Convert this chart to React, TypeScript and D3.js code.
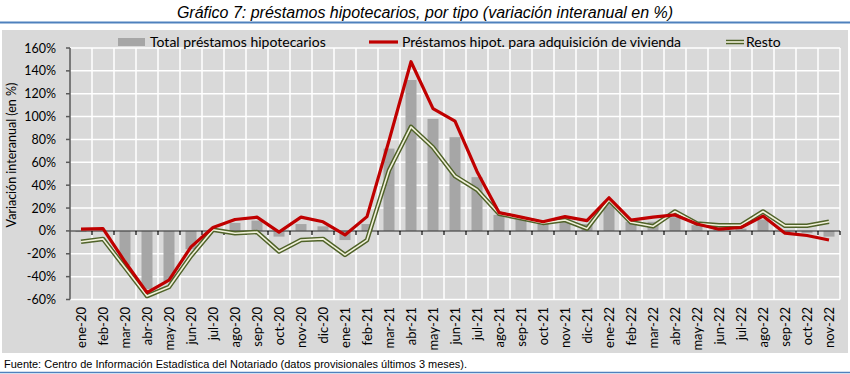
import React from 'react';
import * as d3 from 'd3';

// Meses (ene-20 .. nov-22)
const months = [
  'ene-20', 'feb-20', 'mar-20', 'abr-20', 'may-20', 'jun-20', 'jul-20', 'ago-20', 'sep-20', 'oct-20', 'nov-20', 'dic-20',
  'ene-21', 'feb-21', 'mar-21', 'abr-21', 'may-21', 'jun-21', 'jul-21', 'ago-21', 'sep-21', 'oct-21', 'nov-21', 'dic-21',
  'ene-22', 'feb-22', 'mar-22', 'abr-22', 'may-22', 'jun-22', 'jul-22', 'ago-22', 'sep-22', 'oct-22', 'nov-22',
];

// Total préstamos hipotecarios (barras)
const totalValues = [
  -1, 0, -30, -51, -44, -16, 1, 7, 9, -5, 6, 4,
  -8, 6, 72, 132, 98, 82, 47, 14, 10, 7, 11, 6,
  26, 8, 8, 12, 5, 2, 2, 10, -1, -2, -5,
];

// Préstamos hipot. para adquisición de vivienda
const viviendaValues = [
  1.5, 2, -27, -54, -43, -14, 3, 10, 12, -1, 12, 8,
  -3.5, 12.5, 79, 148, 107, 96, 52, 16, 12, 8, 12.5, 9,
  29, 9.5, 12, 14, 6, 1.5, 3, 13, -2, -4, -8,
];

// Resto
const restoValues = [
  -9.5, -7, -32, -57, -49, -22, 1, -2, -1, -18, -8, -7,
  -21, -8, 53, 91, 73, 48, 36, 15, 11, 7, 9.5, 2,
  27, 7.5, 4, 17, 6.5, 5, 5, 17, 4.5, 4.5, 8,
];

const yTicks = [-60, -40, -20, 0, 20, 40, 60, 80, 100, 120, 140, 160];

const W = 850;
const H = 374;
const plot = { left: 70, right: 840, top: 48, bottom: 299.5 };

const x = d3.scaleBand<string>().domain(months).range([plot.left, plot.right]).padding(0);
const y = d3.scaleLinear().domain([-60, 160]).range([plot.bottom, plot.top]);
const cx = (m: string) => (x(m) as number) + x.bandwidth() / 2;

const lineGen = d3.line<number>()
  .x((_, i) => cx(months[i]))
  .y((d) => y(d));

const labelFont = 'Lato, "Open Sans", sans-serif';

export default function App() {
  const barW = x.bandwidth() * 0.5;
  return (
    <svg width={W} height={H} style={{ position: 'absolute', left: 0, top: 0, background: '#fff' }}>
      {/* title */}
      <text x={425} y={18} textAnchor="middle" fontFamily='"Liberation Sans", Arial, sans-serif'
        fontStyle="italic" fontSize={16} fill="#000">
        Gráfico 7: préstamos hipotecarios, por tipo (variación interanual en %)
      </text>
      <line x1={0} x2={W} y1={22.5} y2={22.5} stroke="#4f81bd" strokeWidth={2} />

      {/* panel */}
      <rect x={2} y={30} width={846} height={323} fill="#d9d9d9" />

      {/* grid */}
      {yTicks.map((t) => (
        <line key={'h' + t} x1={plot.left} x2={plot.right} y1={y(t)} y2={y(t)} stroke="#fff" strokeWidth={1.5} />
      ))}
      {months.map((m) => (
        <line key={'v' + m} x1={(x(m) as number) + x.bandwidth()} x2={(x(m) as number) + x.bandwidth()}
          y1={plot.top} y2={plot.bottom} stroke="#fff" strokeWidth={1.5} />
      ))}

      {/* bars */}
      {totalValues.map((v, i) => (
        <rect key={'b' + i} x={cx(months[i]) - barW / 2} width={barW}
          y={Math.min(y(v), y(0))} height={Math.abs(y(v) - y(0))} fill="#a6a6a6" />
      ))}

      {/* axes */}
      <line x1={plot.left} x2={plot.left} y1={plot.top} y2={plot.bottom} stroke="#595959" strokeWidth={1.5} />
      {yTicks.map((t) => (
        <g key={'yt' + t}>
          <line x1={plot.left - 4} x2={plot.left} y1={y(t)} y2={y(t)} stroke="#595959" strokeWidth={1.5} />
          <text x={plot.left - 14} y={y(t) + 4.5} textAnchor="end" fontFamily={labelFont} fontSize={12.5} fill="#000">
            {t}%
          </text>
        </g>
      ))}
      <line x1={plot.left} x2={plot.right} y1={y(0)} y2={y(0)} stroke="#595959" strokeWidth={1.5} />
      {months.map((m) => (
        <line key={'xt' + m} x1={(x(m) as number) + x.bandwidth()} x2={(x(m) as number) + x.bandwidth()}
          y1={y(0)} y2={y(0) + 4} stroke="#000" strokeWidth={1.2} />
      ))}

      {/* resto: double line */}
      <path d={lineGen(restoValues) || ''} fill="none" stroke="#4f6228" strokeWidth={4.5} strokeLinejoin="round" />
      <path d={lineGen(restoValues) || ''} fill="none" stroke="#f2f2dc" strokeWidth={1.6} strokeLinejoin="round" />

      {/* vivienda */}
      <path d={lineGen(viviendaValues) || ''} fill="none" stroke="#c00000" strokeWidth={3.2} strokeLinejoin="round" />

      {/* x labels */}
      {months.map((m) => (
        <text key={'xl' + m} transform={`translate(${cx(m) + 4.5},${307}) rotate(-90)`} textAnchor="end"
          fontFamily={labelFont} fontSize={13} fill="#000">
          {m}
        </text>
      ))}

      {/* y axis title */}
      <text transform={`translate(16,${155}) rotate(-90)`} textAnchor="middle" fontFamily={labelFont}
        fontSize={12.5} fill="#000">
        Variación interanual (en %)
      </text>

      {/* legend */}
      <rect x={118} y={38} width={27} height={8} fill="#a6a6a6" />
      <text x={150} y={47} fontFamily={labelFont} fontSize={14} fill="#000">Total préstamos hipotecarios</text>
      <line x1={369} x2={398} y1={42} y2={42} stroke="#c00000" strokeWidth={3.2} />
      <text x={402} y={47} fontFamily={labelFont} fontSize={14} fill="#000">Préstamos hipot. para adquisición de vivienda</text>
      <line x1={726} x2={744} y1={42} y2={42} stroke="#4f6228" strokeWidth={4.5} />
      <line x1={726} x2={744} y1={42} y2={42} stroke="#f2f2dc" strokeWidth={1.6} />
      <text x={746} y={47} fontFamily={labelFont} fontSize={14} fill="#000">Resto</text>

      {/* footer */}
      <text x={4} y={368} fontFamily='"Liberation Sans", Arial, sans-serif' fontSize={11} fill="#000"
        textLength={463} lengthAdjust="spacingAndGlyphs">
        Fuente: Centro de Información Estadística del Notariado (datos provisionales últimos 3 meses).
      </text>
      <line x1={0} x2={W} y1={372.5} y2={372.5} stroke="#4f81bd" strokeWidth={1.5} />
    </svg>
  );
}
